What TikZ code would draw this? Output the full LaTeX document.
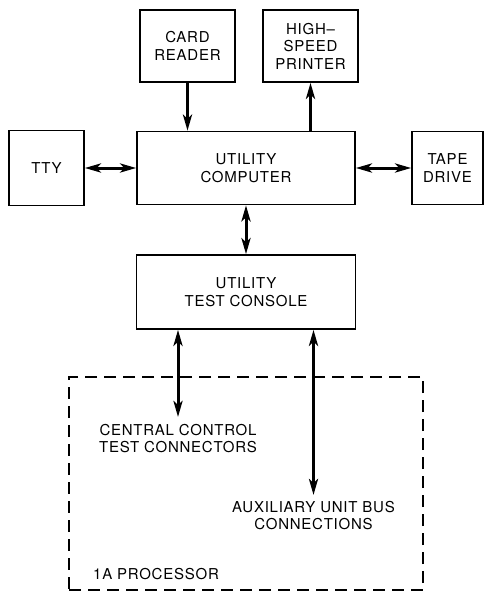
\documentclass[tikz,border=0pt]{standalone}
\usepackage{fontspec}
\setmainfont{TeX Gyre Heros}[LetterSpace=5]
\usetikzlibrary{arrows.meta}
\tikzset{
  >={Stealth[length=16pt,width=9pt,inset=4pt]},
  unit/.style={draw, line width=1.6pt, align=center, font=\fontsize{15}{17.5}\selectfont},
  lbl/.style={align=center, font=\fontsize{15}{17.5}\selectfont},
  link/.style={line width=3pt, ->},
  dlink/.style={line width=3pt, <->}
}
\begin{document}
\begin{tikzpicture}[x=1pt,y=-1pt]
        \useasboundingbox (0,0) rectangle (484,591);
        % boxes
        \node [unit, minimum width=95pt, minimum height=72pt] (reader) at (187.5,46) {CARD\\READER};
        \node [unit, minimum width=95pt, minimum height=72pt] (printer) at (310.5,46) {HIGH--\\SPEED\\PRINTER};
        \node [unit, minimum width=75pt, minimum height=75pt] (tty) at (46.5,168) {TTY};
        \node [unit, minimum width=218pt, minimum height=73pt] (computer) at (246,168) {UTILITY\\COMPUTER};
        \node [unit, minimum width=71pt, minimum height=73pt] (tape) at (447.5,168) {TAPE\\DRIVE};
        \node [unit, minimum width=219pt, minimum height=74pt] (console) at (246,292) {UTILITY\\TEST CONSOLE};
        % processor
        \node [draw, line width=1.6pt, dash pattern=on 12pt off 7pt, minimum width=354pt, minimum height=213pt] (proc) at (246,483.5) {};
        \node [lbl, anchor=base west, inner sep=0pt] (proclbl) at (93,579) {1A PROCESSOR};
        % lecter
        \node [lbl, anchor=north, inner xsep=0pt, inner ysep=7pt] (cc) at (178,417) {CENTRAL CONTROL\\TEST CONNECTORS};
        \node [lbl, anchor=north, inner xsep=0pt, inner ysep=6pt] (aux) at (313.5,495) {AUXILIARY UNIT BUS\\CONNECTIONS};
        % arrows
        \draw [link] (reader.south) -- (reader.south |- computer.north);
        \draw [link] (printer.south |- computer.north) -- (printer.south);
        \draw [dlink] (tty.east) -- (computer.west);
        \draw [dlink] (computer.east) -- (tape.west);
        \draw [dlink] (computer.south) -- (console.north);
        \draw [dlink] (cc.north |- console.south) -- (cc.north);
        \draw [dlink] (aux.north |- console.south) -- (aux.north);
    \end{tikzpicture}
\end{document}
